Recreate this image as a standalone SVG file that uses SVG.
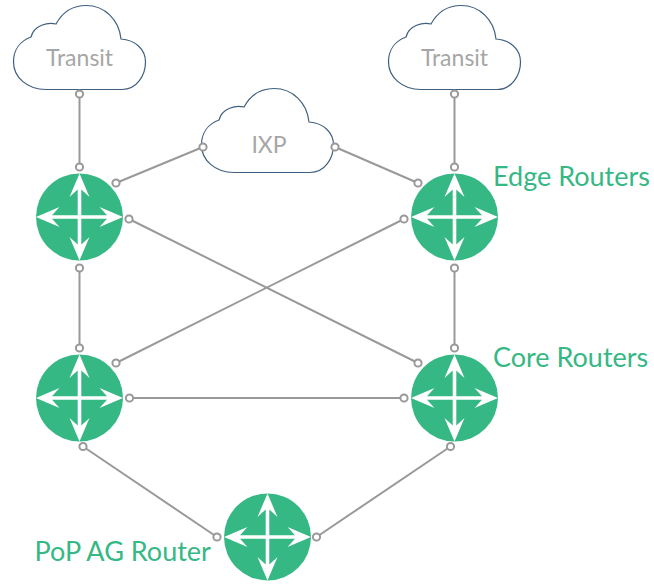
<svg xmlns="http://www.w3.org/2000/svg" width="654" height="584" viewBox="0 0 654 584">
<style>
.cloud{fill:#fff;stroke:#3f5f7f;stroke-width:1.2}
.cl{font-family:Lato,sans-serif;font-size:23px;fill:#a6a6a6;text-anchor:middle}
.gl{font-family:Lato,sans-serif;font-size:27px;fill:#36b885}
.link{stroke:#999;stroke-width:2;fill:none}
.dot{fill:#fff;stroke:#999;stroke-width:2}
.arrow{fill:#fff}
</style>
<defs>
<path id="cloudshape" d="M33 84.500H109C124 84.500 132.500 70 132.500 57C132.500 44 122 35 108 34C106 15 92 0.500 73 0.500C59 0.500 49 8 43 19C35 17 21 20 18 32C7 36 0.500 45 0.500 57C0.500 72 14 84.500 33 84.500Z"/>
<g id="router">
<circle r="43.500" fill="#36b885"/>
<path class="arrow" d="M-1.800 -1.800V-27.500L-10 -20L0 -43.500L10 -20L1.800 -27.500V-1.800H27.500L20 -10L43.500 0L20 10L27.500 1.800H1.800V27.500L10 20L0 43.500L-10 20L-1.800 27.500V1.800H-27.500L-20 10L-43.500 0L-20 -10L-27.500 -1.800H-1.800Z"/>
</g>
</defs>
<g id="cloud-transit-left"><use href="#cloudshape" class="cloud" x="13" y="5"/><text class="cl" x="79.500" y="66">Transit</text></g>
<g id="cloud-transit-right"><use href="#cloudshape" class="cloud" x="388" y="5"/><text class="cl" x="454.500" y="66">Transit</text></g>
<g id="cloud-ixp"><use href="#cloudshape" class="cloud" x="201" y="88"/><text class="cl" x="269" y="153">IXP</text></g>
<g id="connectors">
<path class="link" d="M79.500 94V167M116 183L203 147M129 219L418 363M79.500 268V348M116 363L404 219M129.500 398H404M454.500 94V167M335 147L418 183M454.500 268V348M83 446.500L217 537M450.500 446.500L316.500 537"/>
<g class="dot">
<circle cx="79.500" cy="94" r="3.600"/><circle cx="79.500" cy="167" r="3.600"/><circle cx="116" cy="183" r="3.600"/><circle cx="203" cy="147" r="3.600"/><circle cx="129" cy="219" r="3.600"/><circle cx="418" cy="363" r="3.600"/><circle cx="79.500" cy="268" r="3.600"/><circle cx="79.500" cy="348" r="3.600"/><circle cx="116" cy="363" r="3.600"/><circle cx="404" cy="219" r="3.600"/><circle cx="129.500" cy="398" r="3.600"/><circle cx="404" cy="398" r="3.600"/><circle cx="454.500" cy="94" r="3.600"/><circle cx="454.500" cy="167" r="3.600"/><circle cx="335" cy="147" r="3.600"/><circle cx="418" cy="183" r="3.600"/><circle cx="454.500" cy="268" r="3.600"/><circle cx="454.500" cy="348" r="3.600"/><circle cx="83" cy="446.500" r="3.600"/><circle cx="217" cy="537" r="3.600"/><circle cx="450.500" cy="446.500" r="3.600"/><circle cx="316.500" cy="537" r="3.600"/>
</g>
</g>
<g id="router-edge-left"><use href="#router" x="79.500" y="217"/></g>
<g id="router-edge-right"><use href="#router" x="454.500" y="217"/></g>
<g id="router-core-left"><use href="#router" x="79.500" y="398"/></g>
<g id="router-core-right"><use href="#router" x="454.500" y="398"/></g>
<g id="router-pop"><use href="#router" x="267.500" y="537"/></g>
<g id="labels">
<text class="gl" x="493" y="186">Edge Routers</text>
<text class="gl" x="493" y="367">Core Routers</text>
<text class="gl" x="34.500" y="561">PoP AG Router</text>
</g>
</svg>
